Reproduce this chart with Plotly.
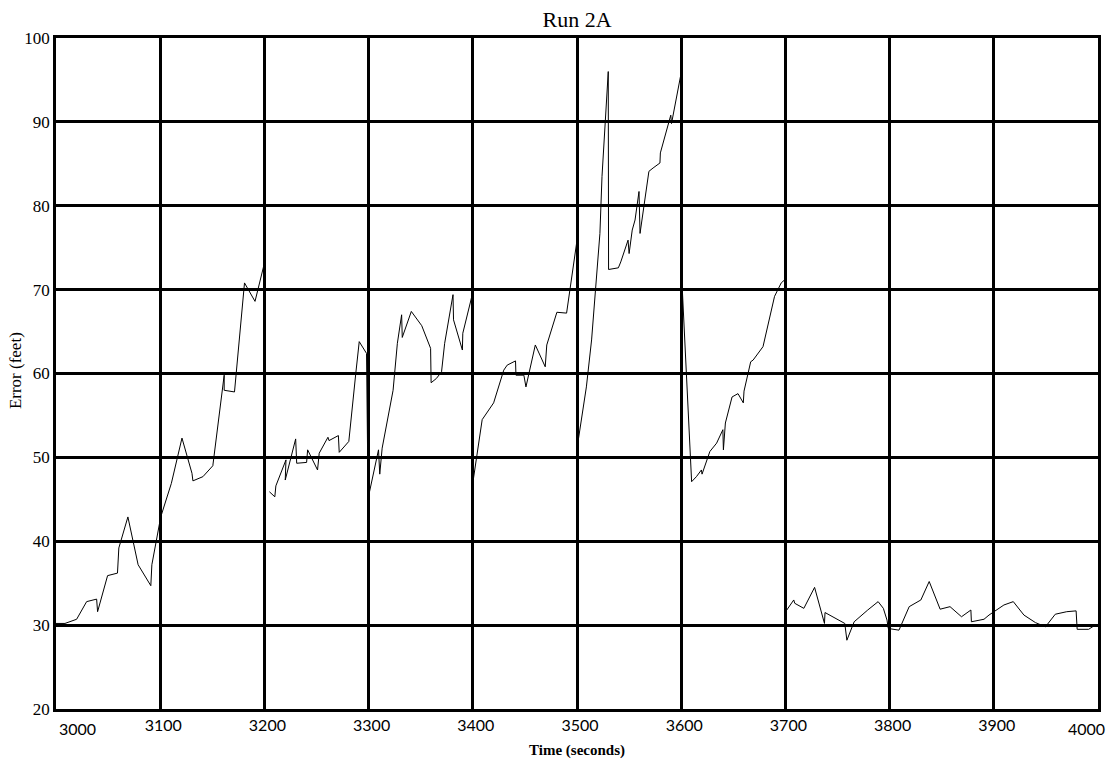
import plotly.graph_objects as go

# Time (seconds); None marks a break in the recorded trace
time_s = [
    2999, 3008.6, 3019.8, 3029.4, 3039, 3039.9, 3049.5, 3059, 3060.3, 3069,
    3078.8, 3091, 3092, 3100.5, 3110.7, 3120.9, 3130.5, 3131.4, 3141, 3150.5,
    3161.4, 3161.4, 3171.3, 3180.9, 3191, 3199.5, None,
    3204.8, 3210, 3211, 3220.7, 3220, 3230, 3231, 3240.5, 3241.5, 3251,
    3252.6, 3261, 3262, 3271, 3271.8, 3281, 3287.7, 3291, 3298, 3299.5,
    3309.5, 3310.7, 3313, 3321, 3323.5, 3327.6, 3331.7, 3332.3, 3341, 3351,
    3359.5, 3360, 3365, 3370, 3373, 3381, 3381.5, 3390, 3390.4, 3398.7, 3399.6,
    3409, 3420, 3429.7, 3433, 3441, 3441.4, 3449, 3451, 3460, 3469.5, 3471,
    3479, 3480.7, 3490, 3493.5, 3499.8, 3500.3,
    3509, 3514, 3522, 3524, 3527, 3530, 3530.3, 3539.7, 3542, 3549, 3550,
    3553, 3555.7, 3559.5, 3560.5, 3565, 3569, 3573, 3579.6, 3580, 3586, 3590,
    3590.7, 3597, 3599.3, 3600.3,
    3610, 3614.6, 3619.4, 3620, 3627.5, 3634, 3640, 3640.5, 3642.4, 3648.8,
    3654.5, 3659.6, 3660.3, 3666.7, 3669, 3678.5, 3689.6, 3696, 3699.6,
    3700.2, 3708, 3709, 3717.7, 3728, 3737.5, 3738, 3748.6, 3757, 3759, 3766,
    3779, 3789, 3794, 3797.5, 3798.7, 3809, 3818.8, 3830, 3838, 3848.5, 3858,
    3869, 3878, 3878.5, 3890.6, 3895.4, 3909.7, 3918.7, 3928.9, 3940, 3949.6,
    3959, 3970, 3979, 3980, 3991, 3996,
]

# Error (feet)
error_ft = [
    30.2, 30.2, 30.7, 32.8, 33.1, 31.6, 35.9, 36.2, 39.2, 42.9,
    37.2, 34.7, 37.2, 42.9, 46.9, 52.3, 48.1, 47.2, 47.7, 49.0,
    59.8, 58.0, 57.8, 70.8, 68.6, 72.9, None,
    45.9, 45.3, 46.6, 49.7, 47.3, 52.2, 49.3, 49.4, 50.9, 48.5,
    50.5, 52.4, 52.0, 52.6, 50.6, 51.9, 60.0, 63.8, 62.4, 45.1,
    50.9, 48.0, 51.1, 56.5, 58.0, 63.6, 67.0, 64.3, 67.4, 65.7,
    63.0, 58.9, 59.4, 60.2, 63.6, 69.4, 66.4, 62.8, 64.8, 69.0, 46.6,
    54.5, 56.5, 60.4, 61.0, 61.5, 59.8, 59.8, 58.4, 63.4, 60.8, 63.4,
    66.6, 67.3, 67.2, 70.4, 75.7, 51.3,
    58.4, 64.0, 76.7, 83.5, 89.4, 96.0, 72.4, 72.6, 73.3, 75.9, 74.3,
    77.1, 78.3, 81.7, 76.7, 80.9, 84.1, 84.5, 85.1, 86.3, 89.0, 90.8,
    89.8, 94.2, 95.4, 72.0,
    47.1, 47.7, 48.5, 48.0, 50.7, 51.7, 53.3, 50.9, 54.1, 57.2,
    57.6, 56.5, 57.9, 61.4, 61.6, 63.2, 69.2, 70.8, 71.2,
    31.6, 33.0, 32.6, 32.0, 34.5, 30.2, 31.5, 30.8, 30.2, 28.2, 30.4,
    31.8, 32.8, 32.0, 30.6, 29.6, 29.4, 32.2, 33.0, 35.2, 31.9, 32.2,
    31.0, 31.8, 30.4, 30.7, 31.2, 32.4, 32.8, 31.2, 30.3, 29.8,
    31.3, 31.6, 31.7, 29.5, 29.5, 29.9,
]

x_ticks = [3000, 3100, 3200, 3300, 3400, 3500, 3600, 3700, 3800, 3900, 4000]
y_ticks = [20, 30, 40, 50, 60, 70, 80, 90, 100]

serif = "Liberation Serif"
tick_font_x = dict(family="Lato", size=16, color="black")

fig = go.Figure()
fig.add_trace(go.Scatter(
    x=time_s, y=error_ft, mode="lines", connectgaps=False,
    line=dict(color="black", width=1),
    showlegend=False, hoverinfo="skip",
))

inner = x_ticks[1:-1]
plot_w = 1110 - 56 - 9
plot_h = 768 - 38 - 59
fig.update_layout(
    width=1110, height=768,
    margin=dict(l=56, r=9, t=38, b=59),
    paper_bgcolor="white", plot_bgcolor="white",
    title=dict(text="Run 2A", x=0.5, xref="paper", xanchor="center",
               y=1 - 19 / 768, yanchor="middle",
               font=dict(family=serif, size=22, color="black")),
    xaxis=dict(
        range=[3000, 4000], tickvals=inner, ticktext=[str(v) for v in inner],
        showgrid=True, gridcolor="black", gridwidth=2.5,
        showline=True, linecolor="black", linewidth=2.5, mirror=True,
        ticks="", tickfont=tick_font_x, zeroline=False, ticklabelshift=3,
    ),
    yaxis=dict(
        range=[20, 100], tickvals=y_ticks,
        showgrid=True, gridcolor="black", gridwidth=2.5,
        showline=True, linecolor="black", linewidth=2.5, mirror=True,
        ticks="", tickfont=dict(family=serif, size=17, color="black"), zeroline=False,
    ),
    annotations=[
        dict(text="3000", x=x_ticks[0], xref="x", y=0, yref="paper", yanchor="top",
             xanchor="center", xshift=21, yshift=-8, showarrow=False, font=tick_font_x),
        dict(text="4000", x=x_ticks[-1], xref="x", y=0, yref="paper", yanchor="top",
             xanchor="center", xshift=-12, yshift=-8, showarrow=False, font=tick_font_x),
        dict(text="<b>Time (seconds)</b>", x=0.5, xref="paper",
             y=-(750 - 709) / plot_h, yref="paper", yanchor="middle",
             showarrow=False, font=dict(family=serif, size=15, color="black")),
        dict(text="Error (feet)", textangle=-90, x=-(56 - 15) / plot_w, xref="paper",
             xanchor="center", y=(709 - 371) / plot_h, yref="paper", yanchor="middle",
             showarrow=False, font=dict(family=serif, size=17, color="black")),
    ],
)

fig.write_html("out.html")
